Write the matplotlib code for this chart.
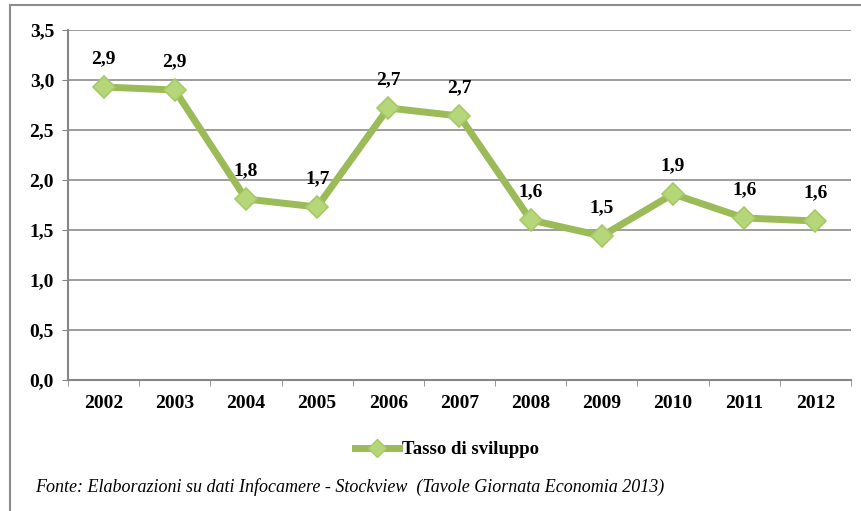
import matplotlib.pyplot as plt
from matplotlib.lines import Line2D
from matplotlib.patches import Rectangle

years = ["2002", "2003", "2004", "2005", "2006", "2007", "2008", "2009", "2010", "2011", "2012"]
tasso = [2.93, 2.90, 1.81, 1.73, 2.72, 2.64, 1.60, 1.44, 1.86, 1.62, 1.59]
labels = ["2,9", "2,9", "1,8", "1,7", "2,7", "2,7", "1,6", "1,5", "1,9", "1,6", "1,6"]
yticks = [0.0, 0.5, 1.0, 1.5, 2.0, 2.5, 3.0, 3.5]

plt.rcParams["font.family"] = ["Liberation Serif", "DejaVu Serif"]

fig = plt.figure(figsize=(8.62, 5.11), dpi=100)
ax = fig.add_axes([0.0789, 0.2564, 0.9083, 0.6849])

# outer frame
fig.patches.append(Rectangle((10 / 862, -0.1), 1.0, (511 - 5) / 511 + 0.1,
                             transform=fig.transFigure, fill=False,
                             edgecolor="#8c8c8c", lw=1.5))

x = list(range(len(years)))
line_color = "#9BBB59"
ax.plot(x, tasso, color=line_color, lw=5, marker="D", markersize=11,
        markerfacecolor="#B5D77A", markeredgecolor="#A6C968", markeredgewidth=1.2,
        zorder=3, solid_joinstyle="round")

for xi, yi, lab in zip(x, tasso, labels):
    ax.annotate(lab, (xi, yi), xytext=(0, 14), textcoords="offset points",
                ha="center", va="bottom", fontsize=14, fontweight="bold")

ax.set_xlim(-0.5, len(years) - 0.5)
ax.set_ylim(0, 3.5)
ax.set_yticks(yticks)
ax.set_yticklabels([f"{v:.1f}".replace(".", ",") for v in yticks],
                   fontsize=14, fontweight="bold")
ax.set_xticks(x)
ax.set_xticklabels(years, fontsize=14, fontweight="bold")
ax.set_xticks([i - 0.5 for i in range(len(years) + 1)], minor=True)
ax.tick_params(axis="x", which="major", length=0, pad=11)
ax.tick_params(axis="x", which="minor", length=4, color="#868686")
ax.tick_params(axis="y", length=4, color="#868686", pad=6)

ax.grid(axis="y", color="#8c8c8c", lw=1.2)
ax.set_axisbelow(True)
for s in ["top", "right"]:
    ax.spines[s].set_visible(False)
for s in ["left", "bottom"]:
    ax.spines[s].set_color("#868686")
    ax.spines[s].set_linewidth(1.5)

handle = Line2D([], [], color=line_color, lw=5, marker="D", markersize=9,
                markerfacecolor="#B5D77A", markeredgecolor="#A6C968")
fig.legend([handle], ["Tasso di sviluppo"], loc="center", bbox_to_anchor=(0.519, 0.12),
           frameon=False, prop={"weight": "bold", "size": 13.5}, handlelength=2.3,
           handletextpad=0.2)

fig.text(35 / 862, 1 - 487 / 511, "Fonte: Elaborazioni su dati Infocamere - Stockview  (Tavole Giornata Economia 2013)",
         fontsize=13, style="italic", va="center", ha="left")

fig.savefig("out.png", dpi=100)
